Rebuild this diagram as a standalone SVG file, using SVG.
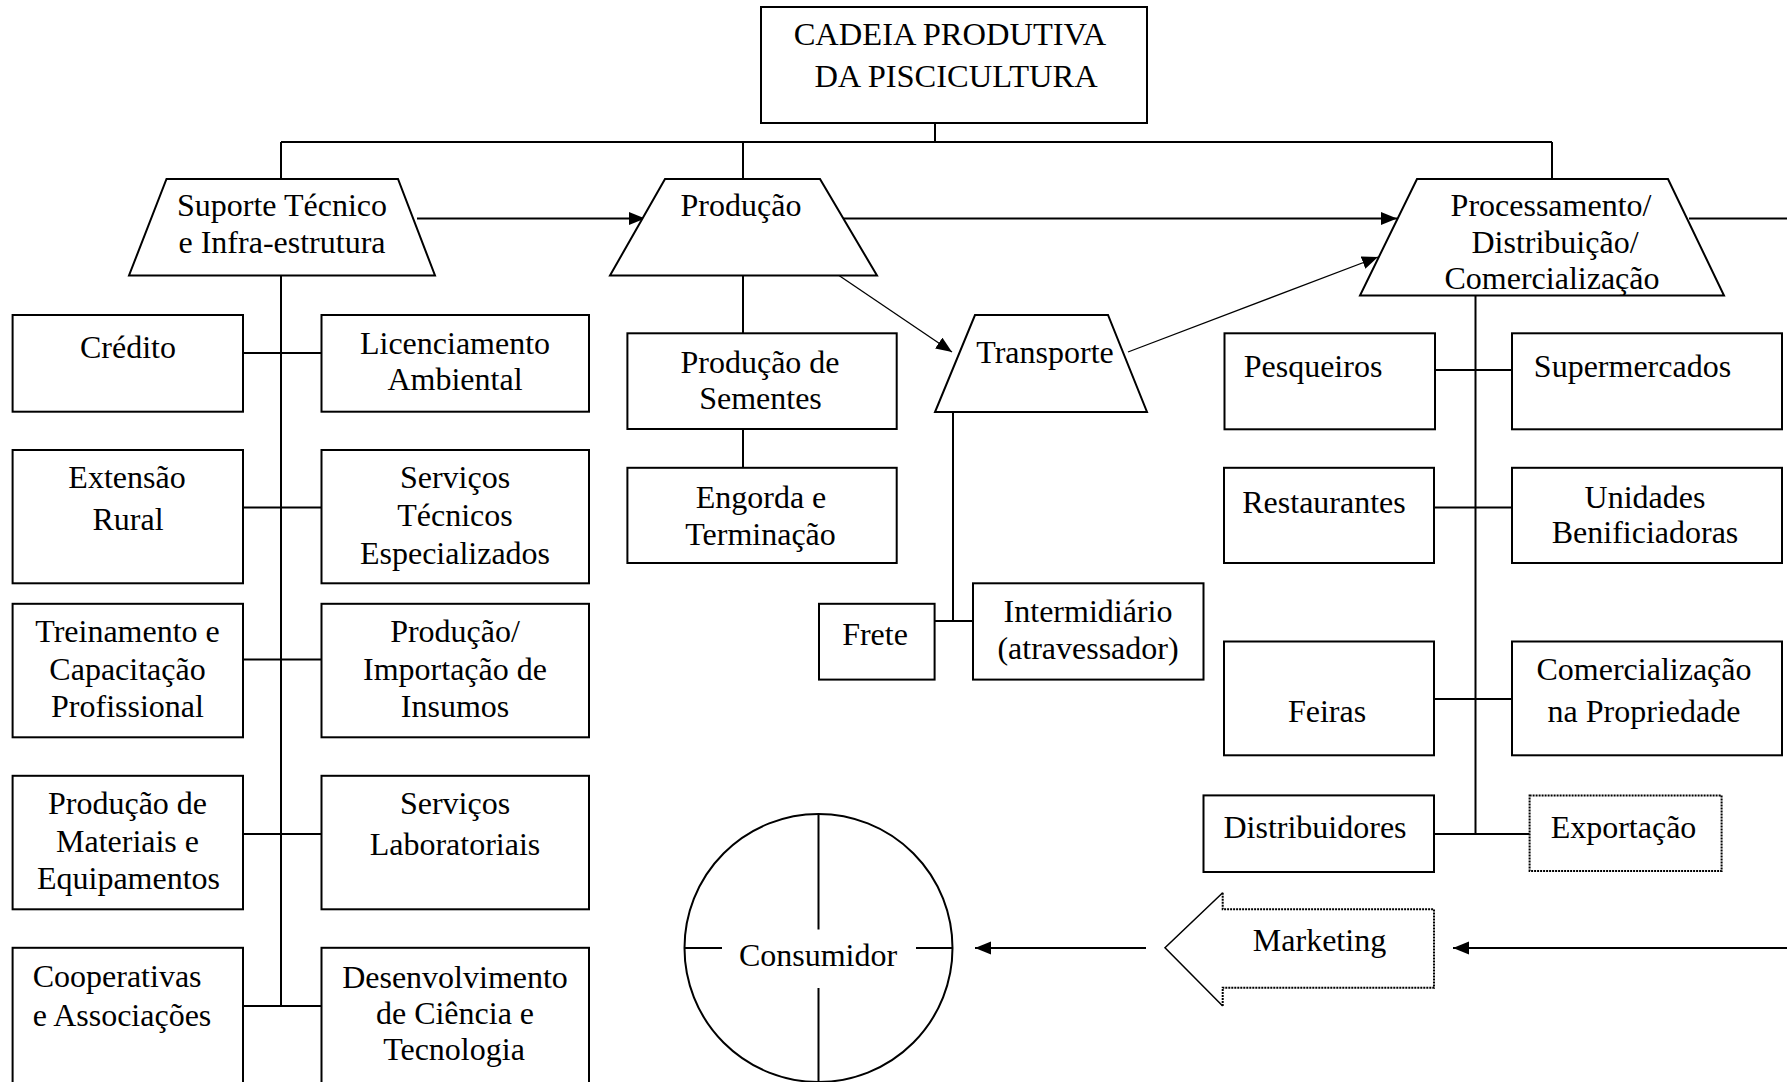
<svg xmlns="http://www.w3.org/2000/svg" width="1787" height="1082" viewBox="0 0 1787 1082">
<style>
.b{fill:#fff;stroke:#000;stroke-width:2}
.d{fill:#fff;stroke:#000;stroke-width:2;stroke-dasharray:2 1}
.c{fill:none;stroke:#000;stroke-width:2}
.th{fill:none;stroke:#000;stroke-width:1.3}
text{font-family:"Liberation Serif","Times New Roman",serif;font-size:32px;fill:#000;text-anchor:middle}
.l{text-anchor:start}
.big{font-size:32.5px}
</style>
<defs>
<marker id="ah" markerUnits="userSpaceOnUse" markerWidth="17" markerHeight="14" refX="16" refY="6.5" orient="auto">
<path d="M0,0 L16,6.5 L0,13 z" fill="#000"/>
</marker>
</defs>
<rect width="1787" height="1082" fill="#fff"/>
<g id="connectors">
<path class="c" d="M935 123V142M281 142H1552M281 142V179M743 142V179M1552 142V179"/>
<path class="c" d="M281 275.5V1006M243 353H321.5M243 507.6H321.5M243 659.5H321.5M243 834H321.5M243 1006H321.5"/>
<path class="c" d="M743 275.5V333.3M743 429V467.8"/>
<path class="c" d="M953 412V621M934.6 621H973"/>
<path class="c" d="M1475.5 295.5V834M1435 370H1512M1434 507.6H1512M1434 699H1512M1434 834H1529.6"/>
<line class="c" x1="417" y1="218.5" x2="645" y2="218.5" marker-end="url(#ah)"/>
<line class="c" x1="839" y1="218.5" x2="1397" y2="218.5" marker-end="url(#ah)"/>
<line class="c" x1="1689" y1="218.5" x2="1787" y2="218.5"/>
<line class="th" x1="839" y1="275.5" x2="952" y2="352" marker-end="url(#ah)"/>
<line class="th" x1="1128" y1="352" x2="1378" y2="257" marker-end="url(#ah)"/>
<line class="c" x1="1146" y1="948" x2="975" y2="948" marker-end="url(#ah)"/>
<line class="c" x1="1787" y1="948" x2="1453" y2="948" marker-end="url(#ah)"/>
</g>
<g id="cadeia"><rect class="b" x="761" y="7" width="386" height="116"/><text class="big" x="950" y="45">CADEIA PRODUTIVA</text><text class="big" x="956" y="87">DA PISCICULTURA</text></g>
<g id="suporte"><polygon class="b" points="166.5,179 398,179 435,275.5 129,275.5"/><text x="282" y="216">Suporte Técnico</text><text x="282" y="253">e Infra-estrutura</text></g>
<g id="producao"><polygon class="b" points="665,179 820,179 877,275.5 610,275.5"/><text x="741" y="216">Produção</text></g>
<g id="processamento"><polygon class="b" points="1417,179 1668,179 1724,295.5 1360,295.5"/><text x="1551" y="216">Processamento/</text><text x="1555" y="253">Distribuição/</text><text x="1552" y="289">Comercialização</text></g>
<g id="transporte"><polygon class="b" points="975,315 1108,315 1147,412 935,412"/><text x="1045" y="363">Transporte</text></g>
<g id="credito"><rect class="b" x="12.6" y="315" width="230.4" height="96.7"/><text x="128" y="358">Crédito</text></g>
<g id="licenciamento"><rect class="b" x="321.5" y="315" width="267.5" height="96.7"/><text x="455" y="354">Licenciamento</text><text x="455" y="390">Ambiental</text></g>
<g id="extensao"><rect class="b" x="12.6" y="450" width="230.4" height="133.3"/><text x="127" y="488">Extensão</text><text x="128" y="530">Rural</text></g>
<g id="servicos-tecnicos"><rect class="b" x="321.5" y="450" width="267.5" height="133.3"/><text x="455" y="488">Serviços</text><text x="455" y="526">Técnicos</text><text x="455" y="563.5">Especializados</text></g>
<g id="treinamento"><rect class="b" x="12.6" y="603.8" width="230.4" height="133.5"/><text x="127.5" y="642">Treinamento e</text><text x="127.5" y="679.5">Capacitação</text><text x="127.5" y="717">Profissional</text></g>
<g id="insumos"><rect class="b" x="321.5" y="603.8" width="267.5" height="133.5"/><text x="455" y="642">Produção/</text><text x="455" y="679.5">Importação de</text><text x="455" y="717">Insumos</text></g>
<g id="materiais"><rect class="b" x="12.6" y="775.8" width="230.4" height="133.5"/><text x="127.5" y="814">Produção de</text><text x="127.5" y="851.5">Materiais e</text><text x="128.5" y="889">Equipamentos</text></g>
<g id="laboratoriais"><rect class="b" x="321.5" y="775.8" width="267.5" height="133.5"/><text x="455" y="814">Serviços</text><text x="455" y="855">Laboratoriais</text></g>
<g id="cooperativas"><rect class="b" x="12.6" y="947.8" width="230.4" height="145"/><text class="l" x="32.7" y="987">Cooperativas</text><text class="l" x="32.7" y="1026">e Associações</text></g>
<g id="desenvolvimento"><rect class="b" x="321.5" y="947.8" width="267.5" height="145"/><text x="455" y="988">Desenvolvimento</text><text x="455" y="1023.5">de Ciência e</text><text x="454" y="1060">Tecnologia</text></g>
<g id="sementes"><rect class="b" x="627.4" y="333.3" width="269.3" height="95.7"/><text x="760" y="372.5">Produção de</text><text x="760.5" y="409">Sementes</text></g>
<g id="engorda"><rect class="b" x="627.4" y="467.8" width="269.3" height="95.2"/><text x="761" y="507.5">Engorda e</text><text x="760.5" y="544.5">Terminação</text></g>
<g id="frete"><rect class="b" x="819" y="603.8" width="115.6" height="75.8"/><text x="875" y="645">Frete</text></g>
<g id="intermidiario"><rect class="b" x="973" y="583.3" width="230.5" height="96.3"/><text x="1088" y="622">Intermidiário</text><text x="1088" y="659">(atravessador)</text></g>
<g id="pesqueiros"><rect class="b" x="1224.5" y="333.3" width="210.5" height="96"/><text x="1313" y="376.5">Pesqueiros</text></g>
<g id="supermercados"><rect class="b" x="1512" y="333.3" width="270" height="96"/><text x="1632.5" y="376.5">Supermercados</text></g>
<g id="restaurantes"><rect class="b" x="1224" y="467.8" width="210" height="95.2"/><text x="1324" y="513">Restaurantes</text></g>
<g id="unidades"><rect class="b" x="1512" y="467.8" width="270" height="95.2"/><text x="1645" y="507.5">Unidades</text><text x="1645" y="542.5">Benificiadoras</text></g>
<g id="feiras"><rect class="b" x="1224" y="641.5" width="210" height="113.8"/><text x="1327" y="721.5">Feiras</text></g>
<g id="comercializacao-propriedade"><rect class="b" x="1512" y="641.5" width="270" height="113.8"/><text x="1644" y="679.5">Comercialização</text><text x="1644" y="721.5">na Propriedade</text></g>
<g id="distribuidores"><rect class="b" x="1203.5" y="795.4" width="230.5" height="76.6"/><text x="1315" y="838">Distribuidores</text></g>
<g id="exportacao"><rect class="d" x="1529.6" y="795.5" width="192" height="75.5"/><text x="1623.5" y="838">Exportação</text></g>
<g id="marketing">
<polygon points="1165,947.7 1222.7,892.7 1222.7,909.3 1434,909.3 1434,987.7 1222.7,987.7 1222.7,1006 " fill="#fff" stroke="none"/>
<path class="c" style="stroke-width:1.5" d="M1222.7 892.7L1165 947.7L1222.7 1006"/>
<path class="c" style="stroke-width:2;stroke-dasharray:2 1" d="M1222.7 892.7V909.3H1434V987.7H1222.7V1006"/>
<text x="1319.5" y="951">Marketing</text>
</g>
<g id="consumidor">
<circle class="b" cx="818.5" cy="948" r="134"/>
<path class="c" d="M818.5 814V929.5M818.5 988V1082M684.5 948H722M916 948H952.5"/>
<text x="818" y="966">Consumidor</text>
</g>
</svg>
